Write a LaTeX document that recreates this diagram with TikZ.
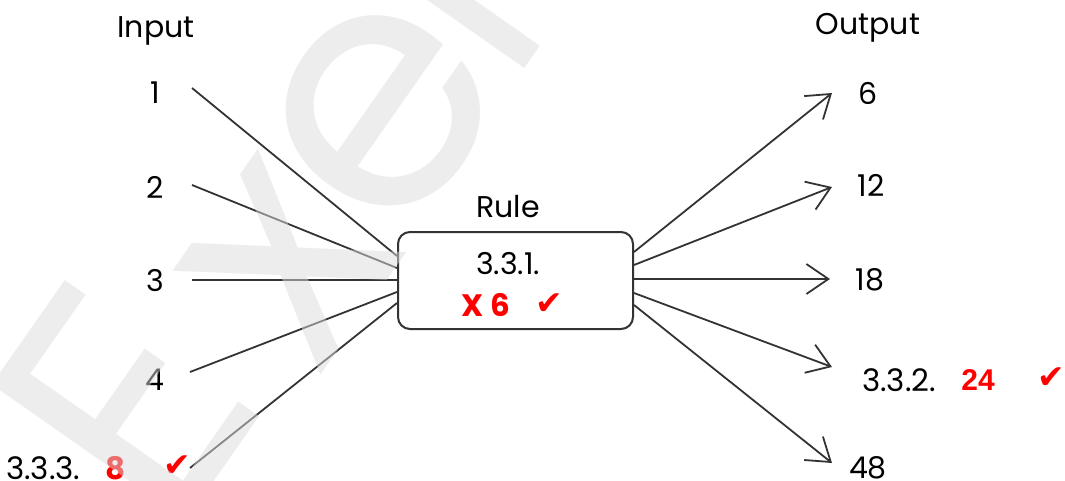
\documentclass[tikz,border=0pt]{standalone}
\usepackage{fontspec}
\setmainfont{Poppins}
\newfontfamily\djv{DejaVu Sans}
\newfontfamily\arialb{Liberation Sans}
\usetikzlibrary{arrows.meta}
\definecolor{ln}{HTML}{333333}
\definecolor{rd}{HTML}{FF0000}
\definecolor{wm}{HTML}{DBDBDB}
\tikzset{
  lbl/.style={font=\fontsize{30}{34}\selectfont, text=black, inner sep=0pt},
  rtxt/.style={font=\fontsize{31}{34}\selectfont\bfseries, text=rd, inner sep=0pt},
  chk/.style={font=\djv\fontsize{33}{38}\selectfont, text=rd, inner sep=0pt},
  wire/.style={draw=ln, line width=1.8pt},
  arr/.style={wire, -{Straight Barb[length=22pt, width=30pt, line width=1.8pt]}},
  rulebox/.style={draw=ln, line width=2pt, rounded corners=12pt, fill=white, minimum width=235pt, minimum height=97pt, inner sep=0pt},
  wmark/.style={text=wm, text opacity=0.5, rotate=55, inner sep=0pt}
}
\begin{document}
\begin{tikzpicture}[x=1pt,y=-1pt]
\useasboundingbox (0,0) rectangle (1065,481);
% labels
\node[lbl] (input) at (156,31) {Input};
\node[lbl] (output) at (868,28) {Output};
\node[lbl] (rulel) at (508,207) {Rule};
\node[lbl] (i1) at (155,93) {1};
\node[lbl] (i2) at (155,187) {2};
\node[lbl] (i3) at (155,281) {3};
\node[lbl] (i4) at (155,380) {4};
\node[lbl, anchor=west, font=\fontsize{31}{34}\selectfont] (i5) at (6,468) {3.3.3.};
\node[rtxt] (i5v) at (116,468) {8};
\node[chk] (i5c) at (177,466) {✔};
\node[lbl] (o1) at (868,93) {6};
\node[lbl] (o2) at (871,185) {12};
\node[lbl] (o3) at (870,280) {18};
\node[lbl, anchor=west, font=\fontsize{31}{34}\selectfont] (o4) at (862,380) {3.3.2.};
\node[font=\arialb\fontsize{30}{34}\selectfont\bfseries, text=rd, inner sep=0pt] (o4v) at (978,380) {24};
\node[chk] (o4c) at (1051,378) {✔};
\node[lbl] (o5) at (868,468) {48};
% rule box
\node[rulebox] (box) at (515.5,280.5) {};
\node[lbl] (boxt) at (508,264) {3.3.1.};
\node[rtxt] (boxx) at (486,305) {X 6};
\node[chk] (boxc) at (549,304) {✔};
% coordinates
\coordinate (s1) at (192,88);
\coordinate (s2) at (192,185);
\coordinate (s3) at (192,280);
\coordinate (s4) at (190,372);
\coordinate (s5) at (190,468);
\coordinate (e1) at (397,256);
\coordinate (e2) at (397,268);
\coordinate (e3) at (398,280);
\coordinate (e4) at (397,292);
\coordinate (e5) at (397,303);
\coordinate (f1) at (634,252);
\coordinate (f2) at (634,265);
\coordinate (f3) at (634,279);
\coordinate (f4) at (634,293);
\coordinate (f5) at (634,305);
\coordinate (t1) at (832,93);
\coordinate (t2) at (832,187);
\coordinate (t3) at (830,279);
\coordinate (t4) at (832,367);
\coordinate (t5) at (832,463);
\foreach \k in {1,...,5}{\draw[wire] (s\k) -- (e\k);}
\foreach \k in {1,...,5}{\draw[arr] (f\k) -- (t\k);}
% watermark (on top, translucent)
\node[wmark, font=\fontsize{340}{340}\selectfont] (wmE) at (124,403) {E};
\node[wmark, font=\fontsize{330}{330}\selectfont] (wmx) at (290,262) {x};
\node[wmark, font=\fontsize{340}{340}\selectfont] (wme) at (383,112) {e};
\node[wmark, font=\fontsize{300}{300}\selectfont, anchor=south] (wml) at (533,57) {l};
\end{tikzpicture}
\end{document}
